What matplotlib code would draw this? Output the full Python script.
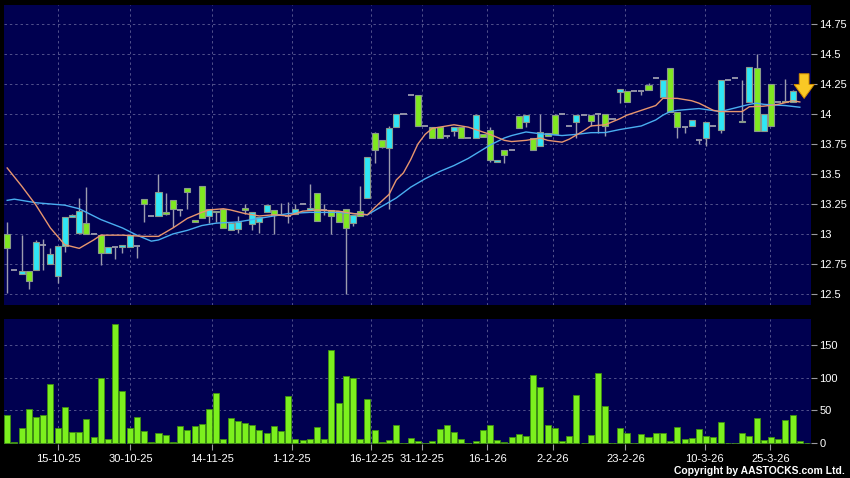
import numpy as np
import matplotlib.pyplot as plt

# OHLC, one entry per trading day (last two days hidden by the arrow)
opens = [13.00, 12.70, 12.67, 12.69, 12.70, 12.91, 12.75, 12.65, 12.90, 13.14,
         13.01, 13.09, 13.00, 12.99, 12.84, 12.89, 12.89, 12.89, 12.90, 13.29,
         13.15, 13.15, 13.18, 13.28, 13.20, 13.38, 13.115, 13.40, 13.15, 13.19,
         13.21, 13.03, 13.04, 13.215, 13.08, 13.10, 13.18, 13.20, 13.16, 13.15,
         13.17, 13.25, 13.20, 13.34, 13.20, 13.20, 13.19, 13.21, 13.09, 13.19,
         13.30, 13.84, 13.78, 13.72, 13.89, 14.00, 14.16, 14.16, 13.90, 13.89,
         13.89, 13.82, 13.86, 13.89, 13.80, 13.80, 13.83, 13.87, 13.60, 13.70,
         13.70, 13.98, 13.93, 13.80, 13.73, 13.845, 13.99, 14.00, 13.90, 13.93,
         13.99, 13.99, 14.00, 14.00, 13.956, 14.18, 14.19, 14.19, 14.19, 14.245,
         14.30, 14.14, 14.38, 14.02, 13.89, 13.90, 13.78, 13.80, 13.90, 13.87,
         14.28, 14.30, 13.93, 14.10, 14.38, 13.86, 14.25, 14.10, 14.11, 14.10]
highs = [13.10, 12.70, 12.99, 12.69, 12.95, 12.96, 12.88, 12.90, 13.14, 13.17,
         13.30, 13.39, 13.00, 12.99, 12.89, 12.89, 12.91, 12.99, 12.90, 13.29,
         13.15, 13.50, 13.34, 13.28, 13.21, 13.38, 13.115, 13.40, 13.21, 13.19,
         13.21, 13.09, 13.15, 13.25, 13.18, 13.14, 13.24, 13.20, 13.26, 13.27,
         13.25, 13.25, 13.42, 13.34, 13.25, 13.20, 13.19, 13.21, 13.16, 13.40,
         13.64, 13.85, 13.78, 13.90, 14.00, 14.00, 14.16, 14.16, 13.90, 13.89,
         13.89, 13.82, 13.89, 13.89, 13.80, 14.00, 13.83, 13.89, 13.62, 13.70,
         13.70, 13.98, 13.99, 13.80, 14.00, 13.845, 14.00, 14.00, 13.90, 13.99,
         13.99, 13.99, 14.01, 14.00, 13.956, 14.21, 14.19, 14.19, 14.19, 14.26,
         14.30, 14.28, 14.38, 14.02, 13.89, 13.95, 13.78, 13.93, 13.90, 14.28,
         14.28, 14.30, 14.28, 14.39, 14.50, 14.00, 14.25, 14.10, 14.29, 14.20]
lows = [12.51, 12.70, 12.67, 12.54, 12.70, 12.70, 12.75, 12.59, 12.85, 13.14,
        13.00, 13.00, 13.00, 12.74, 12.84, 12.79, 12.84, 12.89, 12.80, 13.10,
        13.15, 13.15, 13.16, 13.06, 13.15, 13.21, 13.10, 13.13, 13.09, 13.10,
        13.05, 13.03, 13.01, 13.17, 13.03, 13.01, 13.18, 13.00, 13.16, 13.09,
        13.17, 13.25, 13.20, 13.11, 13.16, 13.00, 13.10, 12.50, 13.07, 13.15,
        13.30, 13.59, 13.72, 13.21, 13.89, 14.00, 14.16, 13.90, 13.90, 13.80,
        13.80, 13.80, 13.82, 13.80, 13.80, 13.80, 13.81, 13.60, 13.60, 13.59,
        13.70, 13.88, 13.89, 13.70, 13.73, 13.82, 13.83, 14.00, 13.90, 13.80,
        13.99, 13.90, 13.84, 13.82, 13.956, 14.09, 14.10, 14.19, 14.16, 14.20,
        14.30, 14.14, 14.02, 13.80, 13.845, 13.90, 13.75, 13.73, 13.90, 13.84,
        14.28, 14.30, 13.93, 14.10, 13.86, 13.86, 13.90, 14.10, 14.10, 14.10]
closes = [12.88, 12.70, 12.69, 12.61, 12.93, 12.91, 12.83, 12.90, 13.14, 13.16,
          13.19, 13.00, 13.00, 12.84, 12.89, 12.89, 12.91, 12.99, 12.90, 13.25,
          13.15, 13.35, 13.165, 13.21, 13.20, 13.35, 13.10, 13.13, 13.21, 13.18,
          13.05, 13.09, 13.10, 13.20, 13.18, 13.14, 13.24, 13.16, 13.16, 13.15,
          13.21, 13.25, 13.215, 13.11, 13.20, 13.15, 13.10, 13.05, 13.16, 13.15,
          13.64, 13.70, 13.725, 13.88, 14.00, 14.00, 14.16, 13.90, 13.90, 13.80,
          13.80, 13.82, 13.89, 13.80, 13.80, 13.99, 13.81, 13.62, 13.62, 13.66,
          13.70, 13.88, 13.99, 13.70, 13.85, 13.82, 13.835, 14.00, 13.90, 13.99,
          13.99, 13.94, 14.00, 13.90, 13.956, 14.21, 14.10, 14.19, 14.19, 14.20,
          14.30, 14.28, 14.02, 13.89, 13.89, 13.95, 13.78, 13.93, 13.90, 14.28,
          14.28, 14.30, 13.94, 14.39, 13.86, 14.00, 13.90, 14.10, 14.10, 14.19]

volume = [43, 1.5, 22.6, 52, 39.5, 43.6, 90, 23.6, 56, 17.4,
          17.4, 37.4, 10.3, 99.5, 7.2, 181.5, 79, 22.6, 39.5, 19.5,
          1.5, 15.4, 12.3, 1.5, 26.7, 20.5, 26.7, 29.7, 51.8, 76.9,
          6.2, 38.5, 34.4, 30.3, 28.2, 20.5, 16.4, 26.7, 18.5, 71.8,
          7.2, 5.1, 7.2, 24.6, 7.2, 142.6, 61.5, 102, 100, 7.2,
          67.7, 20.5, 1.5, 5.1, 28.2, 1, 8.2, 4.1, 0.5, 3,
          21.5, 28.2, 17.4, 7.2, 1, 4.1, 20.5, 27.7, 5.1, 2,
          10.3, 14.4, 11.3, 104.6, 86.2, 28.2, 22.6, 4.1, 11.3, 72.8,
          0, 12.3, 106.7, 56.4, 0, 23.6, 16.4, 0, 14.4, 9.2,
          15.4, 15.4, 3, 24.6, 6.2, 8.2, 21.5, 11.3, 9.2, 31.8,
          1, 0, 16.4, 11.3, 38.5, 5.1, 10.3, 6.2, 34.9, 43.6,
          4.1, 1]

# moving averages (day index, price)
ma_fast_day = [0, 2, 4, 6, 8, 10, 12, 13, 16, 19, 21, 23, 24, 25, 27, 28, 30, 31,
               33, 35, 37, 39, 41, 43, 46, 48, 50, 51, 53, 54, 55, 56, 57, 58, 59,
               60, 62, 64, 66, 67, 69, 70, 72, 74, 75, 77, 78, 80, 81, 83, 85, 86,
               88, 90, 91, 93, 95, 96, 98, 99, 102, 103, 105, 107, 109, 110]
ma_fast_val = [13.55, 13.40, 13.24, 13.05, 12.91, 12.88, 12.95, 12.99, 12.99, 12.98,
               12.98, 13.05, 13.09, 13.13, 13.18, 13.20, 13.21, 13.20, 13.17, 13.15,
               13.16, 13.15, 13.19, 13.20, 13.19, 13.17, 13.16, 13.22, 13.33, 13.45,
               13.51, 13.62, 13.75, 13.83, 13.88, 13.89, 13.91, 13.89, 13.85, 13.83,
               13.78, 13.77, 13.78, 13.80, 13.78, 13.765, 13.79, 13.86, 13.90, 13.91,
               13.96, 13.99, 14.03, 14.07, 14.13, 14.13, 14.11, 14.09, 14.03, 14.02,
               14.02, 14.06, 14.065, 14.08, 14.11, 14.10]
ma_slow_day = [0, 1, 2, 4, 8, 10, 11, 13, 16, 18, 20, 21, 23, 25, 27, 29, 32, 34,
               36, 38, 39, 42, 46, 50, 52, 54, 56, 58, 60, 62, 64, 67, 69, 70, 72,
               74, 77, 79, 81, 83, 85, 88, 90, 91, 92, 93, 96, 99, 101, 103, 104,
               105, 108, 110]
ma_slow_val = [13.28, 13.29, 13.28, 13.26, 13.24, 13.21, 13.18, 13.12, 13.05, 12.99,
               12.94, 12.95, 13.00, 13.03, 13.07, 13.09, 13.10, 13.12, 13.14, 13.16,
               13.17, 13.18, 13.18, 13.16, 13.23, 13.30, 13.39, 13.46, 13.52, 13.57,
               13.63, 13.74, 13.80, 13.82, 13.85, 13.835, 13.82, 13.83, 13.844, 13.845,
               13.87, 13.90, 13.95, 13.99, 14.02, 14.03, 14.045, 14.02, 14.05, 14.08,
               14.09, 14.08, 14.07, 14.056]

tick_labels = ["15-10-25", "30-10-25", "14-11-25", "1-12-25", "16-12-25", "31-12-25",
               "16-1-26", "2-2-26", "23-2-26", "10-3-26", "25-3-26"]
tick_days = [7.1, 17.1, 28.4, 39.5, 50.5, 57.5, 66.6, 75.7, 85.8, 96.8, 105.9]

price_ticks = [12.5, 12.75, 13, 13.25, 13.5, 13.75, 14, 14.25, 14.5, 14.75]
vol_ticks = [0, 50, 100, 150]

plt.rcParams['font.family'] = ['Liberation Sans', 'DejaVu Sans']

bg = '#000050'
grid_c = '#52528c'
up_c = '#2fe6f5'
down_c = '#80e820'
line_c = '#9c9cae'

fig = plt.figure(figsize=(8.5, 4.78), dpi=100, facecolor='black')
ax = fig.add_axes([4 / 850, 1 - 305 / 478, 807 / 850, 300 / 478], facecolor=bg)
axv = fig.add_axes([4 / 850, 1 - 444 / 478, 807 / 850, 125 / 478], facecolor=bg)

o = np.array(opens)
h = np.array(highs)
l = np.array(lows)
c = np.array(closes)
x = np.arange(len(o))
w = 0.84

ax.vlines(x, l, h, color=line_c, lw=1, zorder=2)
body = c != o
up = c > o
ax.bar(x[body], np.abs(c - o)[body], bottom=np.minimum(o, c)[body], width=w,
       color=np.where(up, up_c, down_c)[body], edgecolor='#8a9a8a', linewidth=0.8, zorder=3)
ax.hlines(o[~body], x[~body] - w / 2, x[~body] + w / 2, color=line_c, lw=1.3, zorder=3)

ax.plot(ma_slow_day, ma_slow_val, color='#4aaef0', lw=1, zorder=4)
ax.plot(ma_fast_day, ma_fast_val, color='#e8966e', lw=1, zorder=4)

# latest-price arrow
ax.annotate('', xy=(len(o) + 0.6, 14.13), xytext=(len(o) + 0.6, 14.335),
            arrowprops=dict(arrowstyle='simple,head_width=1.45,head_length=1.0,tail_width=0.7',
                            fc='#f9c825', ec='#d08a00', lw=0.7, mutation_scale=10,
                            shrinkA=0, shrinkB=0), zorder=5)

vx = np.arange(len(volume))
axv.bar(vx, volume, width=w, color='#7cf01e', edgecolor='#3f8f10', linewidth=0.6, zorder=3)

for a in (ax, axv):
    a.set_xlim(-0.44, 111.55)
    a.set_xticks(tick_days)
    a.grid(True, color=grid_c, ls=(0, (2.5, 3)), lw=0.7, zorder=0)
    for s in a.spines.values():
        s.set_visible(False)
    a.yaxis.tick_right()
    a.tick_params(axis='y', colors='#9a9aa0', labelcolor='white', labelsize=8, length=4, pad=2)

ax.set_ylim(12.408, 14.908)
ax.set_yticks(price_ticks)
ax.set_yticklabels([f'{v:g}' for v in price_ticks])
ax.tick_params(axis='x', length=0, labelbottom=False)

axv.set_ylim(-1, 189)
axv.set_yticks(vol_ticks)
axv.set_xticklabels(tick_labels)
axv.tick_params(axis='x', colors='#9a9aa0', labelcolor='white', labelsize=8, length=4, pad=3)

fig.text(0.994, 0.0146, 'Copyright by AASTOCKS.com Ltd.', ha='right', va='center',
         color='white', fontsize=7.5, fontweight='bold')

fig.savefig('out.png', dpi=100, facecolor='black')
